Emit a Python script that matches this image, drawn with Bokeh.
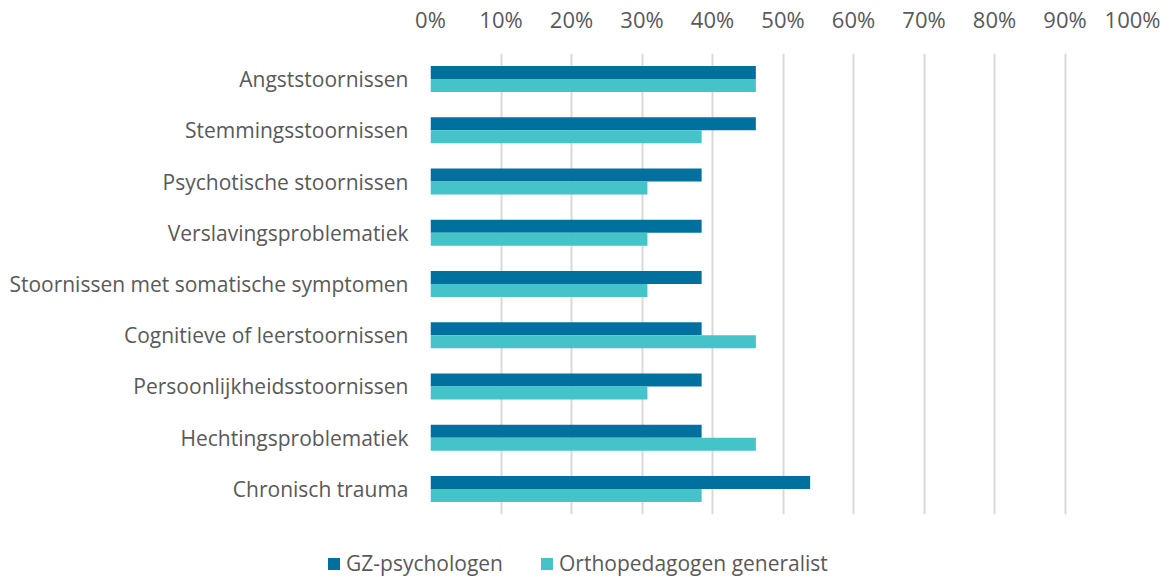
from bokeh.plotting import figure
from bokeh.layouts import column
from bokeh.models import FactorRange, NumeralTickFormatter, FixedTicker, Legend, LegendItem, ColumnDataSource, Range1d
from bokeh.transform import dodge
from bokeh.embed import file_html
from bokeh.resources import INLINE

categories = [
    "Angststoornissen",
    "Stemmingsstoornissen",
    "Psychotische stoornissen",
    "Verslavingsproblematiek",
    "Stoornissen met somatische symptomen",
    "Cognitieve of leerstoornissen",
    "Persoonlijkheidsstoornissen",
    "Hechtingsproblematiek",
    "Chronisch trauma",
]
gz_psychologen = [0.4615, 0.4615, 0.3846, 0.3846, 0.3846, 0.3846, 0.3846, 0.3846, 0.5385]
orthopedagogen = [0.4615, 0.3846, 0.3077, 0.3077, 0.3077, 0.4615, 0.3077, 0.4615, 0.3846]
x_ticks = [0, 0.1, 0.2, 0.3, 0.4, 0.5, 0.6, 0.7, 0.8, 0.9, 1.0]
series_names = ["GZ-psychologen", "Orthopedagogen generalist"]

DARK = "#00719F"
TEAL = "#44C3C8"
TEXT = "#595959"
FONT = "Open Sans"

src = ColumnDataSource(dict(cat=categories, gz=gz_psychologen, ortho=orthopedagogen))

p = figure(
    width=1160, height=530,
    y_range=FactorRange(*list(reversed(categories))),
    x_range=(0, 1),
    x_axis_location="above",
    output_backend="svg", toolbar_location=None,
    min_border_left=430, min_border_right=25, min_border_top=53, min_border_bottom=16,
)
p.frame_align = False

r1 = p.hbar(y=dodge("cat", 0.127, range=p.y_range), right="gz", left=0, height=0.254,
            source=src, color=DARK, line_color=None)
r2 = p.hbar(y=dodge("cat", -0.127, range=p.y_range), right="ortho", left=0, height=0.254,
            source=src, color=TEAL, line_color=None)

p.xaxis.ticker = FixedTicker(ticks=x_ticks)
p.xaxis.formatter = NumeralTickFormatter(format="0%")
p.xaxis.axis_line_color = None
p.xaxis.major_tick_line_color = None
p.xaxis.minor_tick_line_color = None
p.xaxis.major_label_text_font = FONT
p.xaxis.major_label_text_font_size = "22px"
p.xaxis.major_label_text_color = TEXT
p.xaxis.major_label_standoff = 14

p.yaxis.axis_line_color = None
p.yaxis.major_tick_line_color = None
p.yaxis.minor_tick_line_color = None
p.yaxis.major_label_text_font = FONT
p.yaxis.major_label_text_font_size = "21px"
p.yaxis.major_label_text_color = TEXT
p.yaxis.major_label_standoff = 16

p.xgrid.grid_line_color = "#D9D9D9"
p.xgrid.grid_line_width = 2
p.xgrid.ticker = FixedTicker(ticks=x_ticks)
p.ygrid.grid_line_color = None
p.outline_line_color = None
p.background_fill_color = "white"
p.border_fill_color = "white"

# Legend strip below the chart (full width, so the legend can sit left of the plot frame)
pl = figure(
    width=1160, height=47,
    x_range=Range1d(2, 3), y_range=FactorRange(*categories),
    output_backend="svg", toolbar_location=None,
    min_border=0, min_border_left=0, min_border_right=0, min_border_top=0, min_border_bottom=0,
)
pl.frame_align = False
pl.axis.visible = False
pl.grid.visible = False
pl.outline_line_color = None
lr1 = pl.hbar(y="cat", right="gz", left=0, height=0, source=src, color=DARK, line_color=None)
lr2 = pl.hbar(y="cat", right="ortho", left=0, height=0, source=src, color=TEAL, line_color=None)

legend = Legend(
    items=[LegendItem(label=series_names[0], renderers=[lr1]),
           LegendItem(label=series_names[1], renderers=[lr2])],
    orientation="horizontal",
    location=(326, 0),
    label_text_font=FONT, label_text_font_size="21px", label_text_color=TEXT,
    glyph_width=15, glyph_height=15, spacing=36, label_standoff=5,
    border_line_color=None, background_fill_alpha=0, padding=0, margin=0,
)
pl.add_layout(legend, "center")

layout = column(p, pl, spacing=0)
open("out.html", "w").write(file_html(layout, INLINE))
